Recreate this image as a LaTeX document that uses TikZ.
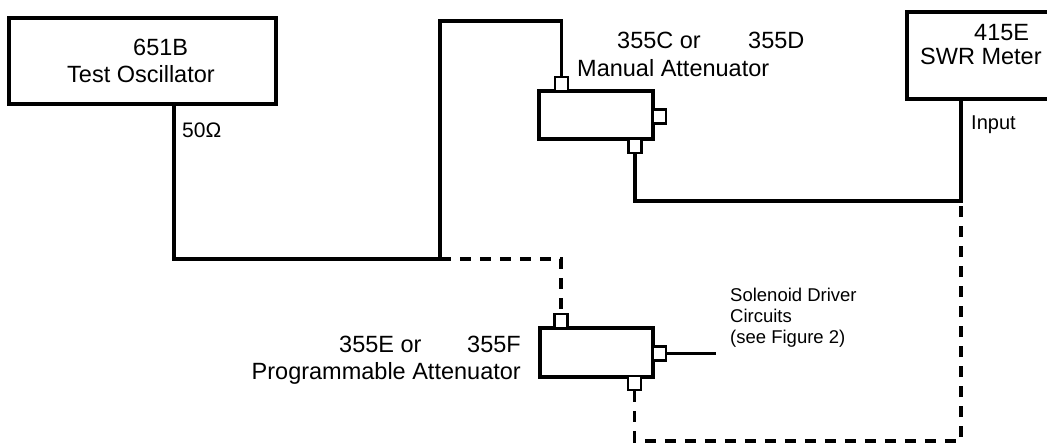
\documentclass[tikz,border=0pt]{standalone}
\usepackage{fontspec}
\setmainfont{Liberation Sans}
\usetikzlibrary{positioning,calc}

\tikzset{
  unit/.style={draw,line width=3.2pt,inner sep=0pt},
  port/.style={draw,line width=2.6pt,inner sep=0pt,minimum width=13pt,minimum height=14pt,fill=white},
  wire/.style={line width=3.2pt},
  dwire/.style={line width=3.2pt,dash pattern=on 11pt off 9pt},
  lbl/.style={inner sep=0pt,font=\fontsize{23.5}{27}\selectfont},
  slbl/.style={inner sep=0pt,font=\fontsize{18.5}{21}\selectfont}
}

\begin{document}
\begin{tikzpicture}[x=1pt,y=-1pt]
  \clip (0,0) rectangle (1047,444);
  \useasboundingbox (0,0) rectangle (1047,444);
  % instruments
  \node[unit,minimum width=267pt,minimum height=86pt] (osc) at (142.5,61) {};
  \node[unit,minimum width=145pt,minimum height=87pt] (meter) at (979.5,55.5) {};
  \node[lbl,anchor=base west] (osc-num) at (133,56) {651B};
  \node[lbl,anchor=base west] (osc-name) at (67,82) {Test Oscillator};
  \node[lbl,anchor=base west,font=\fontsize{21}{24}\selectfont] (osc-imp) at (182,137) {50Ω};
  \node[lbl,anchor=base west] (meter-num) at (974,41) {415E};
  \node[lbl,anchor=base west] (meter-name) at (920,64) {SWR Meter};
  \node[slbl,anchor=base west,font=\fontsize{20}{21}\selectfont] (meter-in) at (971,129) {Input};
  % manual attenuator
  \node[unit,minimum width=114pt,minimum height=48pt] (man) at (596,115) {};
  \node[port] (man-in) at (561.5,84) {};
  \node[port] (man-out) at (635,146) {};
  \node[port] (man-ctl) at (659.5,116.5) {};
  \node[lbl,anchor=base west] (man-a) at (617,49) {355C or};
  \node[lbl,anchor=base west] (man-b) at (748,49) {355D};
  \node[lbl,anchor=base west] (man-name) at (577,77) {Manual Attenuator};
  % programmable attenuator
  \node[unit,minimum width=113pt,minimum height=49pt] (prog) at (596.5,352.5) {};
  \node[port] (prog-in) at (561,321) {};
  \node[port] (prog-out) at (634.5,383) {};
  \node[port] (prog-ctl) at (659.5,353.5) {};
  \node[lbl,anchor=base west] (prog-a) at (339,352) {355E or};
  \node[lbl,anchor=base east] (prog-b) at (521,352) {355F};
  \node[lbl,anchor=base east] (prog-name) at (521,379) {Programmable Attenuator};
  \node[slbl,anchor=base west,align=left] (sol) at (730,343)
    {Solenoid Driver\\Circuits\\(see Figure 2)};
  % connections
  \coordinate (tee) at (440,259);
  \coordinate (top) at (440,21);
  \coordinate (bend) at (961,201);
  \coordinate (low) at (961,441);
  \coordinate (sol-end) at (716,353.5);
  \draw[wire] ([xshift=31.5pt]osc.south) |- (tee) -- (top) -| (man-in);
  \draw[wire] (man-out) |- (bend) -- (bend |- meter.south);
  \draw[dwire] (tee) -| (prog-in);
  \draw[dwire] (prog-out) |- (low) -- (bend);
  \draw[line width=2.2pt] (prog-ctl) -- (sol-end);
\end{tikzpicture}
\end{document}
